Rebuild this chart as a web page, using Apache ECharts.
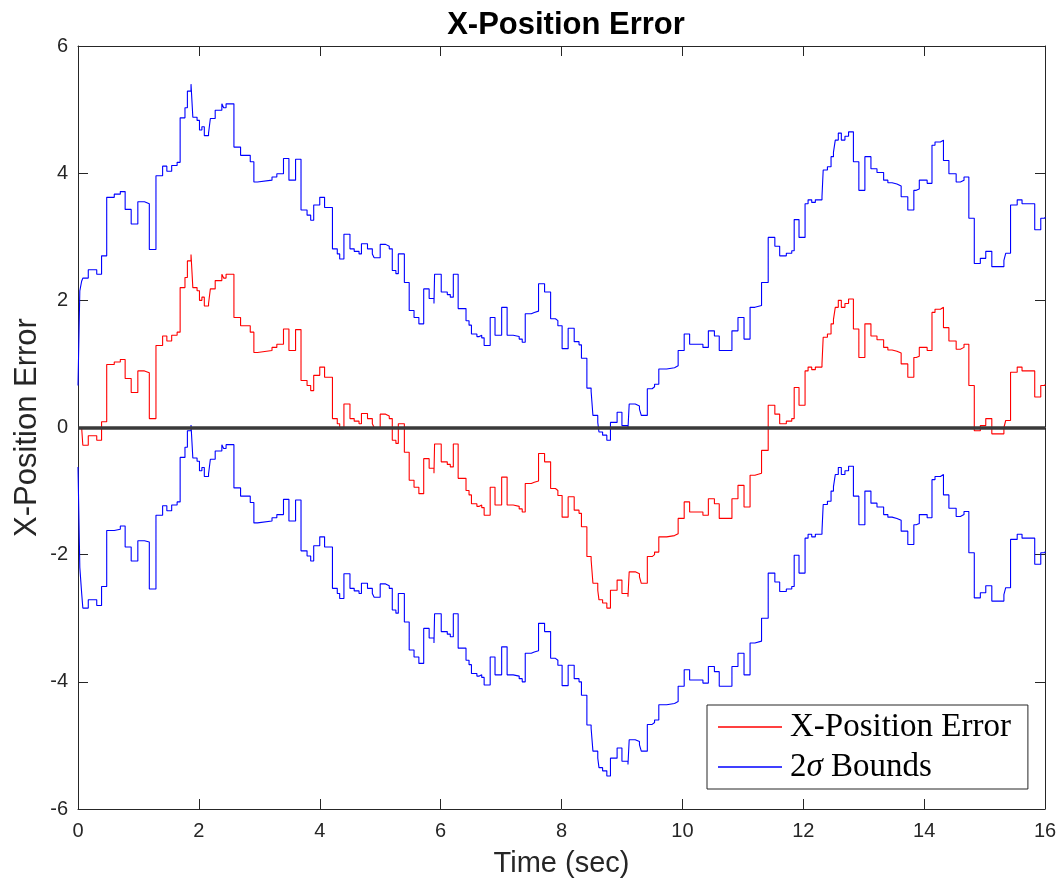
<!DOCTYPE html>
<html>
<head>
<meta charset="utf-8">
<script src="https://cdn.jsdelivr.net/npm/echarts@6/dist/echarts.min.js"></script>
<style>
html,body{margin:0;padding:0;background:#fff;}
#chart{width:1063px;height:886px;}
</style>
</head>
<body>
<div id="chart"></div>
<script>
// Time stamps (sec) at which each level starts (step plot)
const time = [0,0.03,0.06,0.08,0.17,0.31,0.39,0.475,0.6,0.7,0.78,0.88,0.99,1.1,1.18,1.29,1.40,1.47,1.55,1.64,1.69,1.77,1.81,1.87,1.90,1.97,2.01,2.05,2.09,2.16,2.19,2.27,2.38,2.41,2.45,2.58,2.69,2.85,2.91,2.97,3.21,3.29,3.40,3.49,3.60,3.69,3.79,3.85,3.90,4.00,4.08,4.21,4.29,4.33,4.40,4.50,4.57,4.65,4.69,4.79,4.87,4.90,5.00,5.09,5.15,5.20,5.26,5.30,5.40,5.48,5.56,5.64,5.72,5.81,5.89,5.90,6.01,6.11,6.16,6.21,6.29,6.42,6.47,6.51,6.60,6.64,6.68,6.72,6.82,6.90,7.01,7.10,7.20,7.30,7.35,7.40,7.50,7.55,7.62,7.72,7.82,7.90,7.94,8.01,8.11,8.21,8.29,8.33,8.42,8.49,8.52,8.60,8.62,8.68,8.75,8.81,8.92,9.00,9.10,9.12,9.22,9.29,9.32,9.42,9.50,9.54,9.61,9.74,9.87,9.93,10.03,10.12,10.34,10.43,10.53,10.61,10.82,10.92,11.02,11.12,11.20,11.31,11.42,11.53,11.61,11.72,11.81,11.85,11.93,12.03,12.08,12.14,12.20,12.31,12.33,12.40,12.46,12.50,12.53,12.58,12.63,12.69,12.75,12.83,12.92,13.02,13.12,13.22,13.33,13.40,13.47,13.55,13.62,13.73,13.83,13.87,13.92,14.05,14.13,14.18,14.27,14.32,14.41,14.53,14.60,14.66,14.74,14.83,14.93,15.02,15.12,15.32,15.35,15.43,15.54,15.62,15.83,15.93,16];

const xError = [0,0,0,-0.28,-0.13,-0.2,0.09,0.99,1.03,1.07,0.77,0.55,0.89,0.86,0.14,1.29,1.44,1.36,1.45,1.50,2.2,2.36,2.62,2.72,2.2,2.15,2.0,2.05,1.91,1.95,2.18,2.31,2.41,2.35,2.41,1.73,1.6,1.5,1.18,1.21,1.26,1.31,1.55,1.21,1.54,0.74,0.66,0.58,0.82,0.95,0.79,0.14,0.06,-0.02,0.37,0.14,0.10,0.06,0.22,0.14,0.06,0.0,0.21,0.18,0.14,-0.2,-0.25,0.06,-0.39,-0.83,-0.94,-1.04,-0.49,-0.64,-0.72,-0.26,-0.54,-0.58,-0.62,-0.26,-0.80,-0.99,-1.06,-1.20,-1.24,-1.22,-1.26,-1.38,-0.94,-1.22,-0.78,-1.22,-1.24,-1.28,-1.33,-0.88,-0.86,-0.84,-0.41,-0.54,-0.96,-0.99,-1.07,-1.41,-1.09,-1.30,-1.35,-1.56,-2.03,-2.08,-2.45,-2.56,-2.71,-2.76,-2.84,-2.56,-2.40,-2.61,-2.66,-2.27,-2.30,-2.35,-2.45,-2.03,-2.0,-1.96,-1.72,-1.70,-1.67,-1.43,-1.17,-1.33,-1.38,-1.12,-1.20,-1.43,-1.12,-0.91,-1.25,-0.75,-0.72,-0.36,0.35,0.21,0.06,0.10,0.14,0.63,0.35,0.89,0.95,0.91,0.95,1.0,1.42,1.47,1.63,1.70,1.89,2.0,1.89,1.95,2.02,1.55,1.10,1.63,1.44,1.38,1.26,1.22,1.20,1.17,1.0,0.79,1.10,1.12,1.26,1.21,1.81,1.86,1.89,1.57,1.36,1.23,1.26,1.31,0.66,-0.05,0.03,0.14,-0.10,0.0,0.11,0.87,0.95,0.89,0.48,0.66,0.68];

const upperBound = [0.66,2.15,2.3,2.35,2.48,2.41,2.7,3.62,3.67,3.71,3.43,3.2,3.55,3.52,2.8,3.96,4.11,4.03,4.12,4.17,4.87,5.03,5.29,5.4,4.88,4.83,4.68,4.73,4.59,4.63,4.86,4.99,5.09,5.03,5.09,4.41,4.28,4.18,3.86,3.89,3.94,3.99,4.23,3.89,4.22,3.42,3.34,3.26,3.5,3.62,3.46,2.81,2.73,2.65,3.04,2.81,2.77,2.73,2.89,2.81,2.73,2.67,2.88,2.85,2.81,2.47,2.42,2.73,2.28,1.84,1.73,1.63,2.18,2.03,1.95,2.41,2.13,2.09,2.05,2.41,1.87,1.68,1.61,1.47,1.43,1.45,1.41,1.29,1.73,1.45,1.89,1.45,1.43,1.39,1.34,1.79,1.81,1.83,2.26,2.13,1.71,1.68,1.6,1.24,1.56,1.35,1.3,1.09,0.62,0.57,0.19,0.08,-0.07,-0.12,-0.2,0.08,0.24,0.03,-0.02,0.37,0.34,0.29,0.19,0.61,0.64,0.68,0.92,0.94,0.97,1.21,1.47,1.31,1.26,1.52,1.44,1.21,1.52,1.73,1.39,1.89,1.92,2.28,2.99,2.85,2.7,2.74,2.78,3.27,2.99,3.52,3.58,3.54,3.58,3.63,4.05,4.1,4.26,4.33,4.52,4.63,4.52,4.58,4.65,4.18,3.73,4.26,4.07,4.01,3.89,3.85,3.83,3.8,3.63,3.42,3.73,3.75,3.89,3.84,4.44,4.49,4.52,4.2,3.99,3.86,3.89,3.94,3.29,2.58,2.66,2.77,2.53,2.63,2.74,3.5,3.58,3.52,3.11,3.29,3.31];

const lowerBound = [-0.62,-2.2,-2.6,-2.84,-2.71,-2.8,-2.5,-1.62,-1.6,-1.55,-1.88,-2.1,-1.78,-1.8,-2.54,-1.38,-1.23,-1.31,-1.22,-1.17,-0.47,-0.31,-0.05,0.04,-0.48,-0.53,-0.68,-0.63,-0.77,-0.73,-0.5,-0.37,-0.27,-0.33,-0.27,-0.95,-1.08,-1.18,-1.5,-1.47,-1.42,-1.37,-1.13,-1.47,-1.14,-1.94,-2.02,-2.1,-1.86,-1.72,-1.88,-2.53,-2.61,-2.69,-2.3,-2.53,-2.57,-2.61,-2.45,-2.53,-2.61,-2.67,-2.46,-2.49,-2.53,-2.87,-2.92,-2.61,-3.06,-3.5,-3.61,-3.71,-3.16,-3.31,-3.39,-2.93,-3.21,-3.25,-3.29,-2.93,-3.47,-3.66,-3.73,-3.87,-3.91,-3.89,-3.93,-4.05,-3.61,-3.89,-3.45,-3.89,-3.91,-3.95,-4.0,-3.55,-3.53,-3.51,-3.08,-3.21,-3.63,-3.66,-3.74,-4.06,-3.74,-3.95,-4.0,-4.21,-4.68,-4.73,-5.09,-5.2,-5.35,-5.4,-5.48,-5.2,-5.04,-5.25,-5.3,-4.91,-4.94,-4.99,-5.09,-4.67,-4.64,-4.6,-4.36,-4.34,-4.31,-4.07,-3.81,-3.97,-4.02,-3.76,-3.84,-4.07,-3.76,-3.55,-3.89,-3.39,-3.36,-3.0,-2.29,-2.43,-2.58,-2.54,-2.5,-2.01,-2.29,-1.74,-1.68,-1.72,-1.68,-1.63,-1.21,-1.16,-1.0,-0.93,-0.74,-0.63,-0.74,-0.68,-0.61,-1.08,-1.53,-1.0,-1.19,-1.25,-1.37,-1.41,-1.43,-1.46,-1.63,-1.84,-1.53,-1.51,-1.37,-1.42,-0.82,-0.77,-0.74,-1.06,-1.27,-1.4,-1.37,-1.32,-1.97,-2.68,-2.6,-2.49,-2.73,-2.63,-2.52,-1.76,-1.68,-1.74,-2.15,-1.97,-1.95];

const pair = (ys) => time.map((t, i) => [t, ys[i]]);

const chart = echarts.init(document.getElementById('chart'), null, {renderer: 'canvas'});
const axisCol = '#262626';
const sans = 'Liberation Sans, Arial, Helvetica, sans-serif';
const serif = 'Liberation Serif, Times New Roman, serif';

const baseX = {
  type: 'value', min: 0, max: 16, interval: 2,
  axisLine: {show: true, onZero: false, lineStyle: {color: axisCol, width: 1}},
  axisTick: {show: true, inside: true, length: 10, lineStyle: {color: axisCol}},
  splitLine: {show: false}
};
const baseY = {
  type: 'value', min: -6, max: 6, interval: 2,
  axisLine: {show: true, onZero: false, lineStyle: {color: axisCol, width: 1}},
  axisTick: {show: true, inside: true, length: 10, lineStyle: {color: axisCol}},
  splitLine: {show: false}
};

chart.setOption({
  animation: false,
  backgroundColor: '#ffffff',
  title: {
    text: 'X-Position Error',
    left: 561, top: 5, textAlign: 'center',
    textStyle: {fontFamily: sans, fontSize: 31, fontWeight: 'bold', color: '#000'}
  },
  grid: {left: 78, right: 18, top: 46, bottom: 77, containLabel: false},
  legend: {
    data: ['X-Position Error', '2\u03c3 Bounds'],
    orient: 'vertical',
    left: 707, top: 705,
    padding: [4, 17, 4, 11],
    itemGap: 4,
    icon: 'rect',
    itemWidth: 64, itemHeight: 1.3,
    borderColor: '#262626', borderWidth: 1,
    backgroundColor: '#ffffff',
    formatter: function (name) {
      return name === '2\u03c3 Bounds' ? '2{s|\u03c3} Bounds' : name;
    },
    textStyle: {
      fontFamily: serif, fontSize: 33, color: '#000', lineHeight: 36, padding: [0, 0, 0, 3],
      rich: {s: {fontFamily: serif, fontSize: 33, fontStyle: 'italic', color: '#000', lineHeight: 36}}
    }
  },
  xAxis: [
    Object.assign({}, baseX, {
      position: 'bottom',
      name: 'Time (sec)', nameLocation: 'middle', nameGap: 40, nameMoveOverlap: false,
      nameTextStyle: {fontFamily: sans, fontSize: 29, color: axisCol},
      axisLabel: {show: true, margin: 12, fontFamily: sans, fontSize: 20, color: axisCol}
    }),
    Object.assign({}, baseX, {position: 'top', axisLabel: {show: false}})
  ],
  yAxis: [
    Object.assign({}, baseY, {
      position: 'left',
      name: 'X-Position Error', nameLocation: 'middle', nameGap: 35, nameMoveOverlap: false,
      nameTextStyle: {fontFamily: sans, fontSize: 31, color: axisCol},
      axisLabel: {show: true, margin: 10, fontFamily: sans, fontSize: 20, color: axisCol}
    }),
    Object.assign({}, baseY, {position: 'right', axisLabel: {show: false}})
  ],
  series: [
    {
      name: 'X-Position Error', type: 'line', step: 'end',
      data: pair(xError), showSymbol: false, symbol: 'none',
      lineStyle: {color: '#ff0000', width: 1.1}, itemStyle: {color: '#ff0000'}, z: 3
    },
    {
      name: '2\u03c3 Bounds', type: 'line', step: 'end',
      data: pair(upperBound), showSymbol: false, symbol: 'none',
      lineStyle: {color: '#0000ff', width: 1.1}, itemStyle: {color: '#0000ff'}, z: 3
    },
    {
      name: '2\u03c3 Bounds', type: 'line', step: 'end',
      data: pair(lowerBound), showSymbol: false, symbol: 'none',
      lineStyle: {color: '#0000ff', width: 1.1}, itemStyle: {color: '#0000ff'}, z: 4,
      markLine: {
        silent: true, symbol: ['none', 'none'], label: {show: false},
        lineStyle: {color: '#3a3a3a', width: 3.5, type: 'solid'},
        data: [{yAxis: 0}], z: 6
      }
    }
  ]
});
</script>
</body>
</html>
